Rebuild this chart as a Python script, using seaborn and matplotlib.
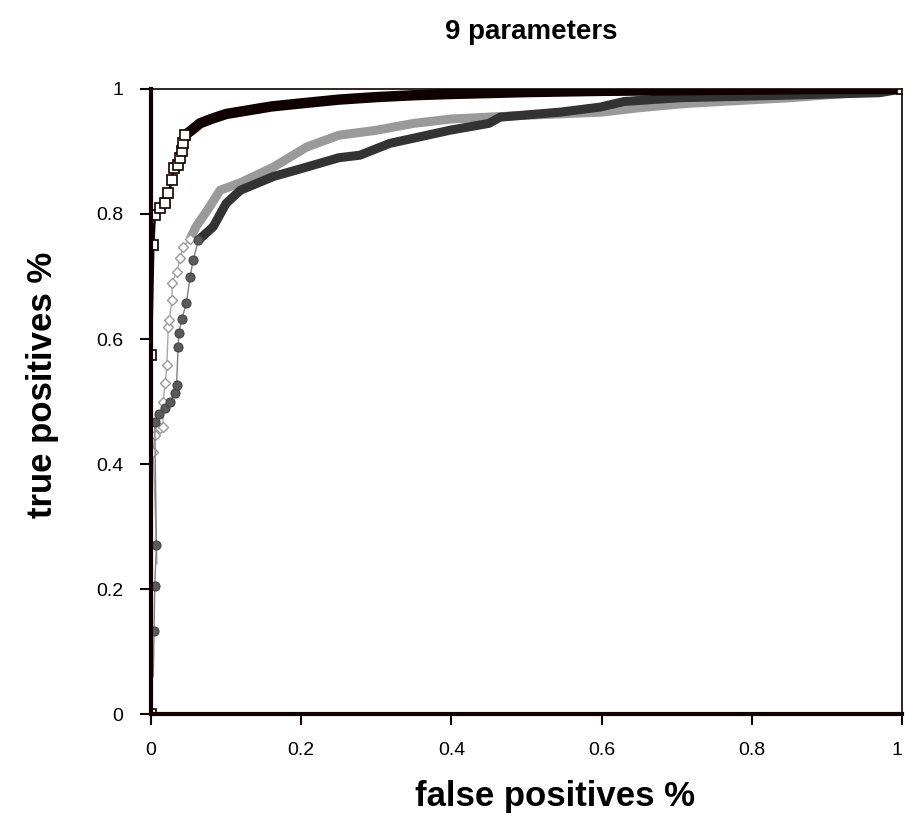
import numpy as np
import pandas as pd
import seaborn as sns
import matplotlib
matplotlib.use("Agg")
from matplotlib import pyplot as plt

# ROC curves
# black series, open squares (sparse start) and dense band
fp_sq = [0.0, 0.0, 0.003, 0.005, 0.012, 0.019, 0.023, 0.028, 0.030, 0.036, 0.039, 0.041, 0.043, 0.045]
tp_sq = [0.0, 0.575, 0.750, 0.798, 0.810, 0.818, 0.833, 0.854, 0.874, 0.878, 0.890, 0.900, 0.914, 0.926]
fp_sq_band = [0.045, 0.055, 0.065, 0.08, 0.10, 0.13, 0.16, 0.20, 0.25, 0.30, 0.35, 0.40, 0.50, 0.60, 0.70, 0.80, 0.90, 1.0]
tp_sq_band = [0.926, 0.935, 0.945, 0.952, 0.960, 0.966, 0.972, 0.977, 0.983, 0.987, 0.990, 0.992, 0.995, 0.997, 0.998, 0.999, 1.0, 1.0]

# light grey series, open diamonds
fp_di = [0.008, 0.003, 0.005, 0.012, 0.016, 0.016, 0.019, 0.021, 0.023, 0.024, 0.028, 0.028, 0.034, 0.039, 0.043, 0.052]
tp_di = [0.240, 0.420, 0.446, 0.457, 0.460, 0.500, 0.530, 0.558, 0.620, 0.630, 0.662, 0.690, 0.707, 0.730, 0.747, 0.760]
fp_di_band = [0.052, 0.06, 0.075, 0.092, 0.119, 0.163, 0.207, 0.25, 0.30, 0.35, 0.40, 0.50, 0.60, 0.65, 0.714, 0.85, 0.95, 1.0]
tp_di_band = [0.760, 0.780, 0.806, 0.838, 0.850, 0.875, 0.907, 0.926, 0.934, 0.945, 0.952, 0.958, 0.963, 0.970, 0.977, 0.986, 0.995, 1.0]

# dark grey series, filled circles
fp_ci = [0.003, 0.004, 0.005, 0.007, 0.005, 0.010, 0.019, 0.025, 0.032, 0.034, 0.036, 0.037, 0.041, 0.047, 0.052, 0.056, 0.063]
tp_ci = [0.060, 0.133, 0.205, 0.270, 0.467, 0.480, 0.490, 0.500, 0.513, 0.526, 0.587, 0.610, 0.632, 0.657, 0.699, 0.726, 0.758]
fp_ci_band = [0.063, 0.074, 0.083, 0.10, 0.119, 0.163, 0.207, 0.25, 0.278, 0.318, 0.398, 0.45, 0.465, 0.545, 0.598, 0.63, 0.704, 0.81, 0.97, 1.0]
tp_ci_band = [0.758, 0.770, 0.780, 0.817, 0.838, 0.860, 0.875, 0.890, 0.894, 0.913, 0.934, 0.945, 0.955, 0.963, 0.971, 0.980, 0.986, 0.989, 0.994, 1.0]

ticks = [0, 0.2, 0.4, 0.6, 0.8, 1]
tick_labels = ["0", "0.2", "0.4", "0.6", "0.8", "1"]

sns.set_style("white")
plt.rcParams['font.family'] = ['Liberation Sans Narrow', 'Liberation Sans', 'DejaVu Sans']
plt.rcParams['text.color'] = 'black'
plt.rcParams['axes.labelcolor'] = 'black'
plt.rcParams['xtick.color'] = 'black'
plt.rcParams['ytick.color'] = 'black'

fig = plt.figure(figsize=(9.05, 8.27), dpi=100)
ax = fig.add_axes([0.1669, 0.1366, 0.8298, 0.7558])

# light grey
sns.lineplot(x=fp_di_band, y=tp_di_band, ax=ax, sort=False, estimator=None,
             color="#9a9a9a", linewidth=6.5, solid_capstyle="butt")
sns.lineplot(x=fp_di, y=tp_di, ax=ax, sort=False, estimator=None,
             color="#a8a8a8", linewidth=1.0, marker="D", markersize=5.5,
             markerfacecolor="white", markeredgecolor="#9a9a9a", markeredgewidth=1.0,
             markevery=list(range(1, len(fp_di))))
# dark grey
sns.lineplot(x=fp_ci_band, y=tp_ci_band, ax=ax, sort=False, estimator=None,
             color="#333333", linewidth=6.5, solid_capstyle="butt")
sns.lineplot(x=fp_ci, y=tp_ci, ax=ax, sort=False, estimator=None,
             color="#808080", linewidth=1.0, marker="o", markersize=6.5,
             markerfacecolor="#5a5a5a", markeredgecolor="#444444", markeredgewidth=0.8,
             markevery=list(range(1, len(fp_ci))))
# black
sns.lineplot(x=fp_sq_band, y=tp_sq_band, ax=ax, sort=False, estimator=None,
             color="#100000", linewidth=7.5, solid_capstyle="butt")
sns.lineplot(x=fp_sq, y=tp_sq, ax=ax, sort=False, estimator=None,
             color="#100000", linewidth=1.8, marker="s", markersize=6.5,
             markerfacecolor="white", markeredgecolor="#100000", markeredgewidth=1.2)
ax.plot([fp_sq_band[-1]], [tp_sq_band[-1]], marker="s", markersize=6.5,
        markerfacecolor="white", markeredgecolor="#100000", markeredgewidth=1.2)

ax.set_xlim(0, 1)
ax.set_ylim(0, 1)
ax.set_xticks(ticks)
ax.set_xticklabels(tick_labels)
ax.set_yticks(ticks)
ax.set_yticklabels(tick_labels)
ax.tick_params(direction="out", length=8, width=1.5, color="#100000",
               labelsize=14, pad=12, bottom=True, left=True)
ax.get_xticklabels()[-1].set_horizontalalignment("right")

for side in ["left", "bottom"]:
    ax.spines[side].set_linewidth(3)
    ax.spines[side].set_color("#100000")
for side in ["top", "right"]:
    ax.spines[side].set_linewidth(1.2)
    ax.spines[side].set_color("#100000")

ax.set_xlabel("false positives %", fontsize=25, fontweight="bold")
ax.xaxis.set_label_coords(0.538, -0.105)
ax.set_ylabel("true positives %", fontsize=25, fontweight="bold")
ax.yaxis.set_label_coords(-0.122, 0.526)
ax.set_title("9 parameters", fontsize=20, fontweight="bold", x=0.506, pad=36)

fig.savefig("out.png", dpi=100)
